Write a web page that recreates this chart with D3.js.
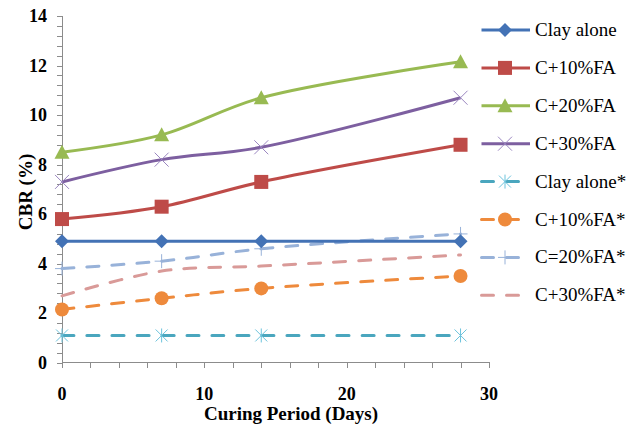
<!DOCTYPE html>
<html>
<head>
<meta charset="utf-8">
<script src="https://cdn.jsdelivr.net/npm/d3@7"></script>
<style>
body { margin: 0; background: #fff; }
</style>
</head>
<body>
<div id="chart-area"></div>
<script>
var width = 640,
	height = 428;

// days of curing
var days = [0, 7, 14, 28];

// CBR values
var clayAlone = [4.9, 4.9, 4.9, 4.9];
var c10 = [5.8, 6.3, 7.3, 8.8];
var c20 = [8.5, 9.2, 10.7, 12.15];
var c30 = [7.3, 8.2, 8.7, 10.7];
var clayAloneS = [1.1, 1.1, 1.1, 1.1];
var c10S = [2.15, 2.6, 3.0, 3.5];
var c20S = [3.8, 4.1, 4.6, 5.2];
var c30S = [2.7, 3.7, 3.9, 4.35];

var seriesNames = ["Clay alone", "C+10%FA", "C+20%FA", "C+30%FA",
	"Clay alone*", "C+10%FA*", "C=20%FA*", "C+30%FA*"];
var seriesValues = [clayAlone, c10, c20, c30, clayAloneS, c10S, c20S, c30S];
var colors = ["#4372B5", "#BE4B48", "#98BA52", "#7D5FA0",
	"#4AA6BE", "#EE8A3C", "#98B2D9", "#D99A98"];
var dashed = [false, false, false, false, true, true, true, true];
var markers = ["diamond", "square", "triangle", "x", "star", "circle", "plus", "none"];

var xTicks = [0, 10, 20, 30];
var yTicks = [0, 2, 4, 6, 8, 10, 12, 14];

var serif = "Liberation Serif";

var svg = d3.select("#chart-area").append("svg")
	.attr("width", width)
	.attr("height", height);

var x = d3.scaleLinear().domain([0, 30]).range([62, 489]);
var y = d3.scaleLinear().domain([0, 14]).range([362.7, 16]);

// minor ticks
var yMinor = d3.range(0, 14.01, 0.4);
svg.append("g").selectAll("line")
	.data(yMinor)
	.enter().append("line")
	.attr("x1", 57).attr("x2", 63)
	.attr("y1", function(d) { return Math.round(y(d)) + 0.5; })
	.attr("y2", function(d) { return Math.round(y(d)) + 0.5; })
	.attr("stroke", "#8c8c8c");
var xMinor = d3.range(0, 30.01, 2);
svg.append("g").selectAll("line")
	.data(xMinor)
	.enter().append("line")
	.attr("y1", 362).attr("y2", 368)
	.attr("x1", function(d) { return Math.round(x(d)) + 0.5; })
	.attr("x2", function(d) { return Math.round(x(d)) + 0.5; })
	.attr("stroke", "#8c8c8c");

// axis lines
svg.append("line")
	.attr("x1", 62.5).attr("x2", 62.5).attr("y1", 16).attr("y2", 363)
	.attr("stroke", "#8c8c8c");
svg.append("line")
	.attr("x1", 62).attr("x2", 489).attr("y1", 362.5).attr("y2", 362.5)
	.attr("stroke", "#8c8c8c");

// tick labels
svg.append("g").selectAll("text")
	.data(yTicks)
	.enter().append("text")
	.attr("x", 47)
	.attr("y", function(d) { return y(d) + 6; })
	.attr("text-anchor", "end")
	.style("font-family", serif)
	.style("font-size", "18px")
	.style("font-weight", "bold")
	.text(function(d) { return d; });
svg.append("g").selectAll("text")
	.data(xTicks)
	.enter().append("text")
	.attr("x", function(d) { return x(d); })
	.attr("y", 400)
	.attr("text-anchor", "middle")
	.style("font-family", serif)
	.style("font-size", "18px")
	.style("font-weight", "bold")
	.text(function(d) { return d; });

// axis titles
svg.append("text")
	.attr("x", 291).attr("y", 420)
	.attr("text-anchor", "middle")
	.style("font-family", serif)
	.style("font-size", "19px")
	.style("font-weight", "bold")
	.text("Curing Period (Days)");
svg.append("text")
	.attr("transform", "translate(32,192) rotate(-90)")
	.attr("text-anchor", "middle")
	.style("font-family", serif)
	.style("font-size", "19px")
	.style("font-weight", "bold")
	.text("CBR (%)");

var line = d3.line()
	.x(function(d, i) { return x(days[i]); })
	.y(function(d) { return y(d); })
	.curve(d3.curveCatmullRom.alpha(0.5));

function drawMarker(g, type, color) {
	if (type == "diamond") {
		g.append("path").attr("d", "M0,-7L7,0L0,7L-7,0Z").attr("fill", color);
	} else if (type == "square") {
		g.append("rect").attr("x", -7).attr("y", -7).attr("width", 14).attr("height", 14).attr("fill", color);
	} else if (type == "triangle") {
		g.append("path").attr("d", "M0,-7.5L7.5,6.5L-7.5,6.5Z").attr("fill", color);
	} else if (type == "x") {
		g.append("path").attr("d", "M-7,-7L7,7M-7,7L7,-7")
			.attr("stroke", "#9a86c0").attr("stroke-width", 1).attr("fill", "none");
	} else if (type == "star") {
		g.append("path").attr("d", "M-6,-6L6,6M-6,6L6,-6M0,-7L0,7")
			.attr("stroke", "#6cc3dc").attr("stroke-width", 1).attr("fill", "none");
	} else if (type == "circle") {
		g.append("circle").attr("r", 7).attr("fill", color);
	} else if (type == "plus") {
		g.append("path").attr("d", "M-7,0L7,0M0,-7L0,7")
			.attr("stroke", "#98B2D9").attr("stroke-width", 1).attr("fill", "none");
	}
}

// draw series (dashed first, solid on top)
var order = [4, 5, 6, 7, 0, 1, 2, 3];
order.forEach(function(s) {
	svg.append("path")
		.datum(seriesValues[s])
		.attr("d", line)
		.attr("fill", "none")
		.attr("stroke", colors[s])
		.attr("stroke-width", 3)
		.attr("stroke-linecap", dashed[s] ? "round" : "butt")
		.attr("stroke-dasharray", dashed[s] ? "12,13" : null);
	seriesValues[s].forEach(function(v, i) {
		var g = svg.append("g").attr("transform", "translate(" + x(days[i]) + "," + y(v) + ")");
		drawMarker(g, markers[s], colors[s]);
	});
});

// legend
var legend = svg.append("g");
seriesNames.forEach(function(name, i) {
	var ly = 30 + i * 37.9;
	legend.append("line").attr("x1", 481.5).attr("x2", 530).attr("y1", ly).attr("y2", ly)
		.attr("stroke", colors[i]).attr("stroke-width", 3)
		.attr("stroke-linecap", dashed[i] ? "round" : "butt")
		.attr("stroke-dasharray", dashed[i] ? "12,13" : null);
	var g = legend.append("g").attr("transform", "translate(505," + ly + ")");
	drawMarker(g, markers[i], colors[i]);
	legend.append("text")
		.attr("x", 535)
		.attr("y", ly + 6)
		.style("font-family", serif)
		.style("font-size", "19px")
		.text(name);
});
</script>
</body>
</html>
